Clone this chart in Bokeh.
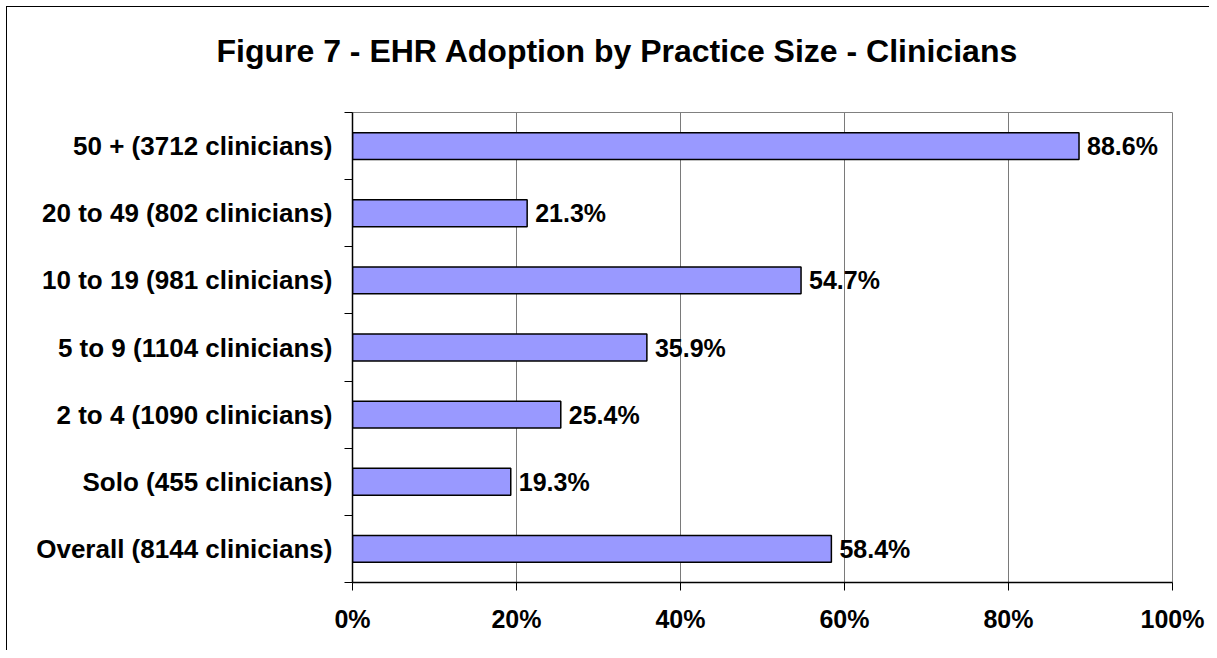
from bokeh.plotting import figure
from bokeh.models import FixedTicker, PrintfTickFormatter, Range1d, ColumnDataSource, Title
from bokeh.core.properties import value
from bokeh.embed import file_html
from bokeh.resources import INLINE
import numpy as np

# data (bottom to top)
categories = [
    "Overall (8144 clinicians)",
    "Solo (455 clinicians)",
    "2 to 4 (1090 clinicians)",
    "5 to 9 (1104 clinicians)",
    "10 to 19 (981 clinicians)",
    "20 to 49 (802 clinicians)",
    "50 + (3712 clinicians)",
]
adoption_pct = [58.4, 19.3, 25.4, 35.9, 54.7, 21.3, 88.6]
x_ticks = [0, 20, 40, 60, 80, 100]
title_text = "Figure 7 - EHR Adoption by Practice Size - Clinicians"

FONT = "Liberation Sans"
M = 6  # outer offset of the chart box
W, H = 1209 - M, 650 - M
BL, BR, BT, BB = 351 - M, 38, 111 - M, 69  # borders around the plot frame

pos = np.arange(len(categories)) + 0.5
src = ColumnDataSource(dict(
    y=pos,
    v=adoption_pct,
    lbl=["%.1f%%" % v for v in adoption_pct],
))

p = figure(
    width=W, height=H,
    output_backend="svg", toolbar_location=None,
    x_range=Range1d(0, 100), y_range=Range1d(0, len(categories)),
    min_border_left=BL, min_border_right=BR,
    min_border_top=BT, min_border_bottom=BB,
)
p.styles = {"border-left": "1px solid black", "border-top": "1px solid black",
            "margin-left": "%dpx" % M, "margin-top": "%dpx" % M}

# blank spacer panel between the frame and the title
spacer = Title(text=" ", text_font_size="10px", standoff=31, align="left")
p.add_layout(spacer, "above")

title = Title(text=title_text, align="left", offset=216 - (BL + M + 1), standoff=0,
              text_font=FONT, text_font_size="32px", text_font_style="bold",
              text_color="black")
p.add_layout(title, "above")

p.hbar(y="y", right="v", left=0, height=0.4, source=src,
       fill_color="#9999FF", line_color="black", line_width=1.5)

p.text(x="v", y="y", text="lbl", source=src, x_offset=8,
       text_align="left", text_baseline="middle",
       text_font=value(FONT), text_font_size="25px", text_font_style="bold",
       text_color="black")

# x axis
p.xaxis.ticker = FixedTicker(ticks=x_ticks)
p.xaxis.formatter = PrintfTickFormatter(format="%d%%")
p.xaxis.major_tick_out = 8
p.xaxis.major_tick_in = 0
p.xaxis.minor_tick_out = 0
p.xaxis.minor_tick_in = 0
p.xaxis.major_label_standoff = 14
p.xaxis.axis_line_color = "black"
p.xaxis.axis_line_width = 1.5
p.xaxis.major_tick_line_color = "black"
p.xaxis.major_label_text_font_size = "25px"

# y axis
p.yaxis.ticker = FixedTicker(ticks=list(pos), minor_ticks=list(range(len(categories) + 1)))
p.yaxis.major_label_overrides = {float(y): c for y, c in zip(pos, categories)}
p.yaxis.major_tick_out = 0
p.yaxis.major_tick_in = 0
p.yaxis.minor_tick_out = 8
p.yaxis.minor_tick_in = 0
p.yaxis.minor_tick_line_color = "black"
p.yaxis.major_label_standoff = 12
p.yaxis.axis_line_color = "black"
p.yaxis.axis_line_width = 1.5
p.yaxis.major_label_text_font_size = "26px"

for ax in (p.xaxis, p.yaxis):
    ax.major_label_text_font = FONT
    ax.major_label_text_font_style = "bold"
    ax.major_label_text_color = "black"

p.xgrid.ticker = FixedTicker(ticks=x_ticks)
p.xgrid.grid_line_color = "#7a7a7a"
p.xgrid.grid_line_width = 1
p.ygrid.grid_line_color = None

p.outline_line_color = "#808080"
p.outline_line_width = 1
p.background_fill_color = "white"
p.border_fill_color = "white"

open("out.html", "w").write(file_html(p, INLINE))
